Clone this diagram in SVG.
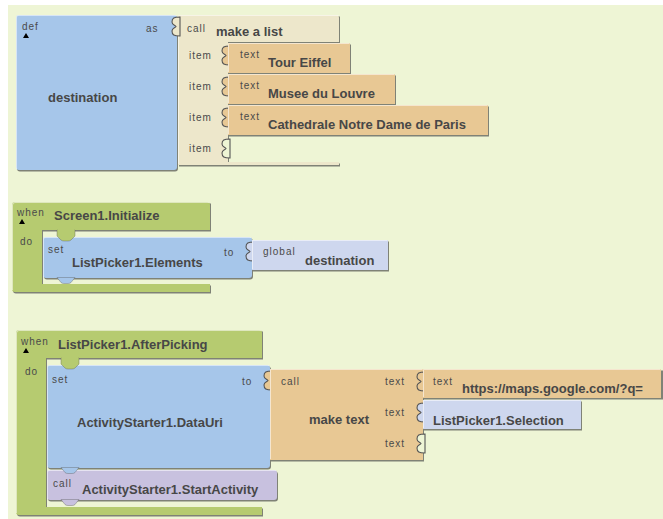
<svg xmlns="http://www.w3.org/2000/svg" xmlns:xlink="http://www.w3.org/1999/xlink" width="663" height="519" viewBox="0 0 663 519">
<style>
.blue{fill:#A6C6EA}
.beige{fill:#EDE7CB}
.orange{fill:#E8C894}
.green{fill:#B6CB70}
.lav{fill:#CED7EE}
.purple{fill:#C8C1DF}
.bgc{fill:#EEF5D5}
.sh{fill:#444;opacity:.65}
.hl{fill:none;stroke:#fff;stroke-opacity:.55;stroke-width:1}
.sock{stroke:#555;stroke-width:1.1}
.nt{stroke:#555;stroke-opacity:.45;stroke-width:0.8}
.lbl{font-family:"Liberation Sans",Arial,sans-serif;font-weight:bold;font-size:13px;fill:#474747}
.sm{font-family:"Liberation Sans",Arial,sans-serif;font-size:10px;letter-spacing:1px;fill:#4a4a4a}
</style>
<defs>
<path id="tab" d="M2,0 C-4,0 -6,1 -6,5 C-6,8 -3,8 -2,9.5 C-3,11 -6,11 -6,14 C-6,18 -4,19 2,19 Z"/>
<path id="tri" d="M0,5 L3,0 L6,5 Z" fill="#000"/>
<path id="stab" d="M0,0 V6 L4,10 Q5,11 7,11 H11 Q13,11 14,10 L18,6 V0 Z"/>
<path id="btab" d="M0,0 L4,5 Q5,6 7,6 H11 Q13,6 14,5 L18,0 Z"/>
</defs>
<rect x="8" y="5" width="655" height="514" class="bgc"/>

<!-- Block 1: def destination -->
<g id="def-destination">
<rect x="17" y="16.5" width="161" height="155" rx="3" class="sh"/>
<rect x="16" y="15" width="161" height="155" rx="3" class="blue"/>
<path d="M16.5,169 V17 Q16.5,15.5 18,15.5 H176.5" class="hl"/>
<text x="22" y="30" class="sm">def</text>
<use href="#tri" x="23" y="33"/>
<text x="146" y="32" class="sm">as</text>
<text x="48" y="102" class="lbl">destination</text>
</g>

<g id="make-a-list">
<path d="M179,16.5 H340 V43.5 H229 V163.5 H340 V166.5 H179 Z" class="sh"/>
<path d="M178,15 H336 Q339,15 339,18 V42 H228 V162 H339 V165 H178 Z" class="beige"/>
<path d="M178.5,164 V15.5 H338.5" class="hl"/>
<use href="#tab" x="178" y="17" class="beige sock"/>
<text x="187" y="32" class="sm">call</text>
<text x="216" y="36" class="lbl">make a list</text>
<text x="189" y="59" class="sm">item</text>
<text x="189" y="90" class="sm">item</text>
<text x="189" y="121" class="sm">item</text>
<text x="189" y="152" class="sm">item</text>
<use href="#tab" x="228" y="139" class="bgc sock"/>
</g>

<g id="text-tour-eiffel">
<rect x="229" y="44.5" width="122" height="30" class="sh"/>
<use href="#tab" x="228" y="46" class="orange sock"/>
<rect x="228" y="43" width="122" height="30" class="orange"/>
<path d="M228.5,72 V43.5 H349.5" class="hl"/>
<text x="240" y="58" class="sm">text</text>
<text x="268" y="67" class="lbl">Tour Eiffel</text>
</g>

<g id="text-musee">
<rect x="229" y="75.5" width="167" height="30" class="sh"/>
<use href="#tab" x="228" y="77" class="orange sock"/>
<rect x="228" y="74" width="167" height="30" class="orange"/>
<path d="M228.5,103 V74.5 H394.5" class="hl"/>
<text x="240" y="89" class="sm">text</text>
<text x="268" y="98" class="lbl">Musee du Louvre</text>
</g>

<g id="text-cathedrale">
<rect x="229" y="106.5" width="260" height="30" class="sh"/>
<use href="#tab" x="228" y="108" class="orange sock"/>
<rect x="228" y="105" width="260" height="30" class="orange"/>
<path d="M228.5,134 V105.5 H487.5" class="hl"/>
<text x="240" y="120" class="sm">text</text>
<text x="268" y="129" class="lbl">Cathedrale Notre Dame de Paris</text>
</g>

<!-- Block 2: when Screen1.Initialize -->
<g id="screen1-initialize">
<path d="M16,203.5 H211 V231.5 H43 V285.5 H211 V293.5 H16 Q13,293.5 13,290.5 V206.5 Q13,203.5 16,203.5 Z" class="sh"/>
<path d="M15,202 H207 Q210,202 210,205 V230 H42 V284 H210 V292 H15 Q12,292 12,289 V205 Q12,202 15,202 Z" class="green"/>
<path d="M12.5,290 V205 Q12.5,202.5 15,202.5 H209" class="hl"/>
<text x="17" y="216" class="sm">when</text>
<use href="#tri" x="19" y="219"/>
<text x="54" y="220" class="lbl">Screen1.Initialize</text>
<text x="20" y="245" class="sm">do</text>
</g>

<g id="set-listpicker-elements">
<rect x="44" y="238.5" width="209" height="41" rx="3" class="sh"/>
<rect x="43" y="237" width="209" height="41" rx="3" class="blue"/>
<path d="M43.5,277 V239 Q43.5,237.5 45,237.5 H251" class="hl"/>
<use href="#stab" x="57" y="230" class="green nt"/>
<rect x="57.6" y="229" width="16.8" height="2" class="green"/>
<use href="#btab" x="57" y="277.5" class="blue nt"/>
<text x="48" y="253" class="sm">set</text>
<text x="72" y="267" class="lbl">ListPicker1.Elements</text>
<text x="224" y="256" class="sm">to</text>
</g>

<g id="global-destination">
<rect x="253" y="241.5" width="136" height="30" class="sh"/>
<use href="#tab" x="252" y="242" class="lav sock"/>
<rect x="252" y="240" width="136" height="30" class="lav"/>
<path d="M252.5,269 V240.5 H387.5" class="hl"/>
<text x="263" y="255" class="sm">global</text>
<text x="305" y="265" class="lbl">destination</text>
</g>

<!-- Block 3: when ListPicker1.AfterPicking -->
<g id="listpicker-afterpicking">
<path d="M20,331.5 H263 V359.5 H47 V508.5 H263 V516.5 H20 Q17,516.5 17,513.5 V334.5 Q17,331.5 20,331.5 Z" class="sh"/>
<path d="M19,330 H259 Q262,330 262,333 V358 H46 V507 H262 V515 H19 Q16,515 16,512 V333 Q16,330 19,330 Z" class="green"/>
<path d="M16.5,513 V333 Q16.5,330.5 19,330.5 H261" class="hl"/>
<text x="21" y="345" class="sm">when</text>
<use href="#tri" x="23" y="348"/>
<text x="58" y="349" class="lbl">ListPicker1.AfterPicking</text>
<text x="25" y="375" class="sm">do</text>
</g>

<g id="set-activitystarter-datauri">
<rect x="48" y="366.5" width="223" height="103" rx="3" class="sh"/>
<rect x="47" y="365" width="223" height="103" rx="3" class="blue"/>
<path d="M47.5,467 V367 Q47.5,365.5 49,365.5 H269" class="hl"/>
<use href="#stab" x="61" y="358" class="green nt"/>
<rect x="61.6" y="357" width="16.8" height="2" class="green"/>
<text x="52" y="383" class="sm">set</text>
<text x="242" y="385" class="sm">to</text>
<text x="77" y="427" class="lbl">ActivityStarter1.DataUri</text>
</g>

<g id="make-text">
<rect x="271" y="370.5" width="153" height="91" class="sh"/>
<use href="#tab" x="270" y="371" class="orange sock"/>
<rect x="270" y="369" width="153" height="91" class="orange"/>
<path d="M270.5,459 V369.5 H422.5" class="hl"/>
<text x="281" y="385" class="sm">call</text>
<text x="309" y="424" class="lbl">make text</text>
<text x="385" y="385" class="sm">text</text>
<text x="385" y="416" class="sm">text</text>
<text x="385" y="447" class="sm">text</text>
<use href="#tab" x="423" y="434" class="bgc sock"/>
</g>

<g id="text-maps-url">
<rect x="424" y="370.5" width="239" height="29" class="sh"/>
<use href="#tab" x="423" y="372" class="orange sock"/>
<rect x="423" y="369" width="238" height="29" class="orange"/>
<path d="M423.5,397 V369.5 H660.5" class="hl"/>
<text x="433" y="385" class="sm">text</text>
<text x="462" y="393" class="lbl">https://maps.google.com/?q=</text>
</g>

<g id="listpicker-selection">
<rect x="424" y="401.5" width="158" height="29" class="sh"/>
<use href="#tab" x="423" y="403" class="lav sock"/>
<rect x="423" y="400" width="158" height="29" class="lav"/>
<path d="M423.5,428 V400.5 H580.5" class="hl"/>
<text x="433" y="425" class="lbl">ListPicker1.Selection</text>
</g>

<g id="call-startactivity">
<rect x="48" y="471.5" width="230" height="30" rx="3" class="sh"/>
<rect x="47" y="470" width="230" height="30" rx="3" class="purple"/>
<path d="M47.5,499 V472 Q47.5,470.5 49,470.5 H276" class="hl"/>
<use href="#btab" x="61" y="467.5" class="blue nt"/>
<use href="#btab" x="61" y="499.5" class="purple nt"/>
<text x="53" y="487" class="sm">call</text>
<text x="82" y="494" class="lbl">ActivityStarter1.StartActivity</text>
</g>
</svg>
